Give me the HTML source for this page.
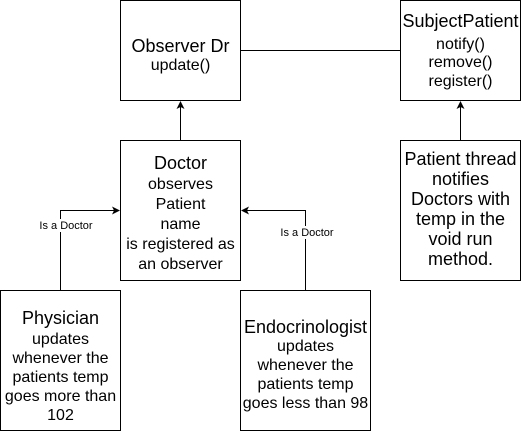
<!DOCTYPE html>
<html><head><style>
html,body{margin:0;padding:0;background:#fff;}
svg{display:block;font-family:"Liberation Sans",Arial,sans-serif;}
</style></head><body>
<svg width="521" height="441" viewBox="0 0 521 441" xmlns="http://www.w3.org/2000/svg">
<g fill="#fff" stroke="#000" stroke-width="1">
<rect x="120.5" y="0.5" width="120" height="100"/>
<rect x="400.5" y="0.5" width="120" height="100"/>
<rect x="400.5" y="140.5" width="120" height="140"/>
<rect x="120.5" y="140.5" width="120" height="140"/>
<rect x="0.5" y="290.5" width="120" height="140"/>
<rect x="240.5" y="290.5" width="130" height="140"/>
</g>
<g stroke="#000" fill="none">
<line x1="240.5" y1="50.5" x2="400.5" y2="50.5"/>
<line x1="180.5" y1="140" x2="180.5" y2="107"/>
<line x1="460.5" y1="140" x2="460.5" y2="107"/>
<polyline points="60.5,290 60.5,210.5 114,210.5"/>
<polyline points="305.5,290 305.5,210.5 247,210.5"/>
</g>
<g fill="#000">
<polygon points="180.5,101 176.5,109 180.5,107 184.5,109"/>
<polygon points="460.5,101 456.5,109 460.5,107 464.5,109"/>
<polygon points="120,210.5 112,206.5 114,210.5 112,214.5"/>
<polygon points="241,210.5 249,206.5 247,210.5 249,214.5"/>
</g>
<rect x="38" y="219" width="54" height="13" fill="#fff"/>
<rect x="280" y="226" width="54" height="13" fill="#fff"/>
<g font-size="11" text-anchor="middle" fill="#000">
<text x="66" y="229">Is a Doctor</text>
<text x="307" y="236">Is a Doctor</text>
</g>
<g text-anchor="middle" fill="#000">
<text x="180.5" y="52" font-size="18">Observer Dr</text>
<text x="180.5" y="70" font-size="16">update()</text>
<text x="460.5" y="27" font-size="18">SubjectPatient</text>
<text x="460.5" y="49" font-size="16">notify()</text>
<text x="460.5" y="67" font-size="16">remove()</text>
<text x="460.5" y="86" font-size="16">register()</text>
<g font-size="18">
<text x="460.5" y="165">Patient thread</text>
<text x="460.5" y="185">notifies</text>
<text x="460.5" y="205">Doctors with</text>
<text x="460.5" y="225">temp in the</text>
<text x="460.5" y="245">void run</text>
<text x="460.5" y="265">method.</text>
</g>
<text x="180.5" y="169" font-size="18">Doctor</text>
<g font-size="16">
<text x="180.5" y="189">observes</text>
<text x="180.5" y="209">Patient</text>
<text x="180.5" y="229">name</text>
<text x="180.5" y="249">is registered as</text>
<text x="180.5" y="269">an observer</text>
</g>
<text x="60.5" y="324" font-size="18">Physician</text>
<g font-size="16">
<text x="60.5" y="344">updates</text>
<text x="60.5" y="363">whenever the</text>
<text x="60.5" y="382">patients temp</text>
<text x="60.5" y="401">goes more than</text>
<text x="60.5" y="420">102</text>
</g>
<text x="305.5" y="333" font-size="18">Endocrinologist</text>
<g font-size="16">
<text x="305.5" y="351">updates</text>
<text x="305.5" y="370">whenever the</text>
<text x="305.5" y="389">patients temp</text>
<text x="305.5" y="408">goes less than 98</text>
</g>
</g>
</svg>
</body></html>
